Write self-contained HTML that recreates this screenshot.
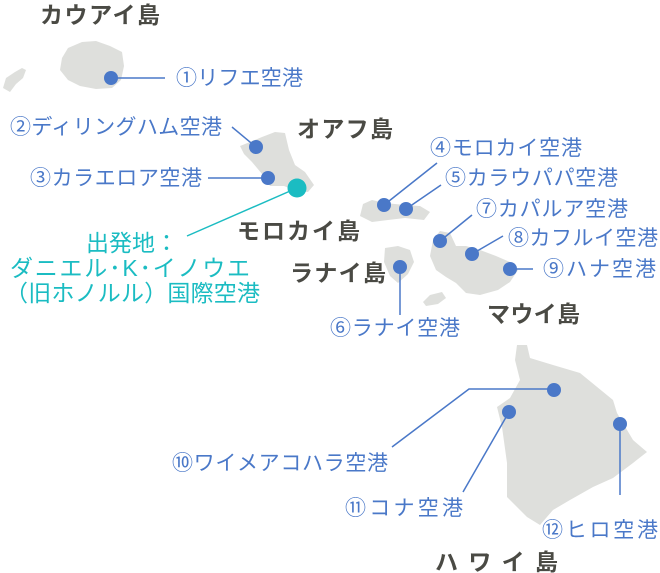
<!DOCTYPE html>
<html><head><meta charset="utf-8"><style>
html,body{margin:0;padding:0;background:#fff}
svg{display:block}
text{font-family:"Liberation Sans","Noto Sans CJK JP",sans-serif}
.b{fill:#4a78c8;font-size:21px}
.d{fill:#4a4a44;font-size:23px;font-weight:bold}
.c{fill:#1bbcc2;font-size:23px}
</style></head><body>
<svg width="660" height="573" viewBox="0 0 660 573">
<g fill="#dedfdc">
<path d="M3,88 L6,78 L15,72 L22,68 L26,70 L23,78 L16,84 L10,92 Z"/>
<path d="M68,48 L82,42 L96,41 L110,46 L122,52 L124,66 L121,80 L112,88 L96,89 L80,86 L68,80 L60,70 L62,58 Z"/>
<path d="M240,146 L250,142 L262,137 L275,132 L285,133 L289,150 L295,165 L305,172 L314,185 L308,192 L296,191 L284,186 L270,186 L262,174 L252,162 L244,154 Z"/>
<path d="M363,204 L372,200 L385,203 L405,205 L420,206 L430,212 L424,220 L405,218 L388,220 L372,222 L360,216 Z"/>
<path d="M385,248 L398,246 L410,250 L414,262 L408,274 L398,283 L390,276 L384,262 Z"/>
<path d="M423,302 L430,295 L442,292 L446,298 L438,304 L426,306 Z"/>
<path d="M433,240 L440,231 L450,233 L456,246 L466,246 L480,250 L496,256 L510,262 L518,270 L510,282 L498,290 L480,295 L466,293 L456,283 L446,277 L436,270 L430,256 Z"/>
<path d="M517,345 L527,345 L530,358 L553,365 L580,373 L613,400 L617,413 L633,440 L647,452 L633,463 L613,478 L593,487 L570,500 L553,510 L540,525 L527,517 L507,497 L507,463 L502,427 L497,407 L510,398 L520,380 L515,360 Z"/>
</g>
<g stroke="#4a78c8" stroke-width="1.5" fill="none">
<path d="M111,78 H165"/>
<path d="M232,127 L256,147"/>
<path d="M208,178 H268"/>
<path d="M384,205 L437,163"/>
<path d="M406,209 L441,185"/>
<path d="M440,241 L472,215"/>
<path d="M472,254 L503,236"/>
<path d="M510,269 H533"/>
<path d="M400,267 V315"/>
<path d="M556,389 H469 L392,447"/>
<path d="M509,412 L463,492"/>
<path d="M620,424 V495"/>
</g>
<path d="M297,188 L187,236" stroke="#1bbcc2" stroke-width="1.5"/>
<g fill="#4a78c8">
<circle cx="111" cy="78" r="7"/><circle cx="256" cy="147" r="7"/><circle cx="268" cy="178" r="7"/>
<circle cx="384" cy="205" r="7"/><circle cx="406" cy="209" r="7"/><circle cx="440" cy="241" r="7"/>
<circle cx="472" cy="254" r="7"/><circle cx="510" cy="269" r="7"/><circle cx="400" cy="267" r="7"/>
<circle cx="554" cy="390" r="7"/><circle cx="509" cy="412" r="7"/><circle cx="620" cy="424" r="7"/>
</g>
<circle cx="297" cy="188" r="9.5" fill="#1bbcc2"/>
<text class="d" x="40" y="23" textLength="120">カウアイ島</text>
<text class="d" x="297" y="137" textLength="96">オアフ島</text>
<text class="d" x="237" y="239" textLength="123">モロカイ島</text>
<text class="d" x="290" y="281" textLength="96">ラナイ島</text>
<text class="d" x="487" y="322" textLength="93">マウイ島</text>
<text class="d" x="435" y="570" textLength="123">ハワイ島</text>
<text class="b" x="176" y="85" textLength="127">①リフエ空港</text>
<text class="b" x="10" y="134" textLength="212">②ディリングハム空港</text>
<text class="b" x="30" y="185" textLength="172">③カラエロア空港</text>
<text class="b" x="430" y="155" textLength="152">④モロカイ空港</text>
<text class="b" x="445" y="185" textLength="173">⑤カラウパパ空港</text>
<text class="b" x="476" y="216" textLength="152">⑦カパルア空港</text>
<text class="b" x="508" y="245" textLength="150">⑧カフルイ空港</text>
<text class="b" x="543" y="276" textLength="113">⑨ハナ空港</text>
<text class="b" x="330" y="335" textLength="130">⑥ラナイ空港</text>
<text class="b" x="172" y="470" textLength="216">⑩ワイメアコハラ空港</text>
<text class="b" x="345" y="515" textLength="118">⑪コナ空港</text>
<text class="b" x="542" y="537" textLength="116">⑫ヒロ空港</text>
<text class="c" x="86" y="251" textLength="92">出発地：</text>
<text class="c" x="10" y="276" textLength="240">ダニエル･K･イノウエ</text>
<text class="c" x="5" y="301" textLength="255">（旧ホノルル）国際空港</text>
</svg>
</body></html>
